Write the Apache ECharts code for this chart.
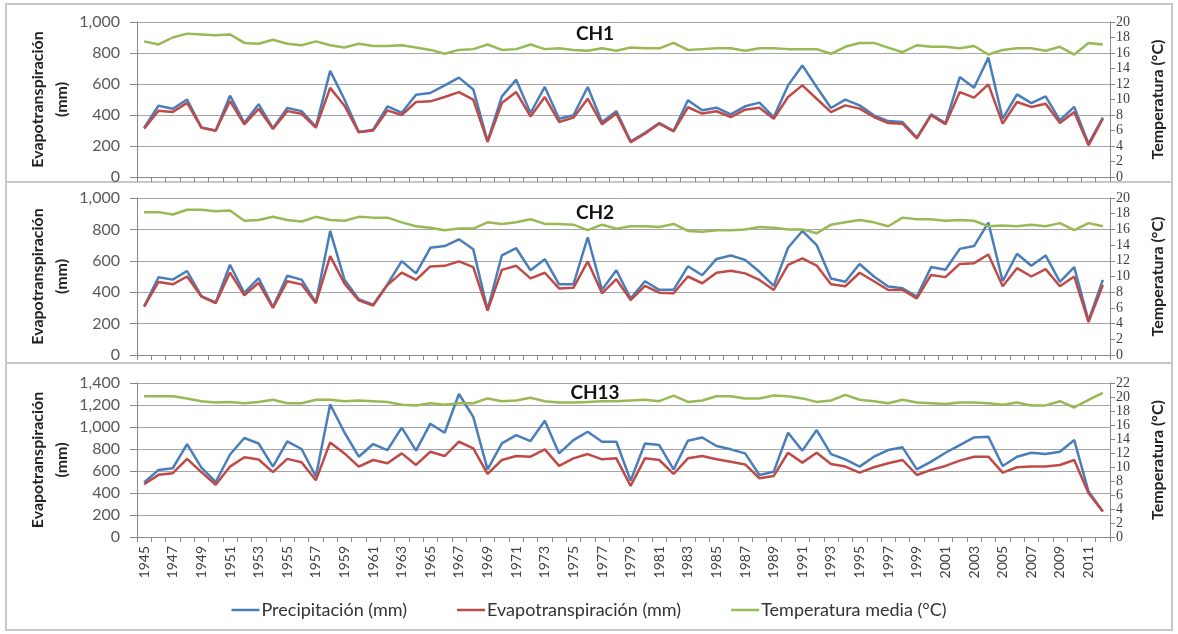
<!DOCTYPE html>
<html>
<head>
<meta charset="utf-8">
<script src="https://cdn.jsdelivr.net/npm/echarts@6/dist/echarts.min.js"></script>
<style>
html,body{margin:0;padding:0;background:#fff;}
#c{width:1178px;height:634px;}
</style>
</head>
<body>
<div id="c"></div>
<script>
const years = ['1945','1946','1947','1948','1949','1950','1951','1952','1953','1954','1955','1956','1957','1958','1959','1960','1961','1962','1963','1964','1965','1966','1967','1968','1969','1970','1971','1972','1973','1974','1975','1976','1977','1978','1979','1980','1981','1982','1983','1984','1985','1986','1987','1988','1989','1990','1991','1992','1993','1994','1995','1996','1997','1998','1999','2000','2001','2002','2003','2004','2005','2006','2007','2008','2009','2010','2011','2012'];

const panelTitles = ['CH1', 'CH2', 'CH13'];
const seriesNames = ['Precipitación (mm)', 'Evapotranspiración (mm)', 'Temperatura media (°C)'];

const ch1Precip = [318,460,440,500,320,300,525,350,470,315, 445,425,325,685,500,290,305,455,415,531, 542,591,641,565,232,520,628,413,581,376, 398,581,355,425,230,285,348,298,495,430, 447,404,456,480,387,591,720,581,445,499, 462,398,361,355,254,404,348,645,576,770, 376,533,477,520,366,452,215,383];
const ch1Evap = [312,428,420,478,318,298,490,340,440,310, 425,408,318,575,460,288,300,430,400,484, 488,516,548,499,226,477,548,391,516,355, 383,505,340,409,224,280,344,295,450,409, 424,387,434,447,376,516,591,505,419,462, 441,387,348,344,249,398,340,548,512,598, 344,484,452,473,348,419,204,376];
const ch1Temp = [17.5,17.1,18.0,18.5,18.4,18.3,18.4,17.3,17.2,17.7, 17.2,17.0,17.5,17.0,16.7,17.2,16.9,16.9,17.0,16.7, 16.4,15.9,16.4,16.5,17.1,16.4,16.5,17.1,16.5,16.6, 16.4,16.3,16.6,16.3,16.7,16.6,16.6,17.3,16.4,16.5, 16.6,16.6,16.3,16.6,16.6,16.5,16.5,16.5,15.9,16.8, 17.3,17.3,16.7,16.1,17.0,16.8,16.8,16.6,16.9,15.8, 16.4,16.6,16.6,16.3,16.8,15.8,17.3,17.1];

const ch2Precip = [310,495,480,535,375,335,575,395,490,305, 505,480,335,790,480,355,320,450,598,520, 683,694,737,673,287,635,680,540,610,450, 450,750,415,540,360,470,415,415,565,508, 612,634,606,530,440,683,790,700,487,466, 580,500,436,425,372,560,543,676,694,843, 470,645,568,634,466,560,220,478];
const ch2Evap = [308,465,450,500,372,330,525,380,460,300, 470,450,330,630,455,348,315,445,525,478, 564,568,596,560,283,542,568,488,524,424, 428,596,393,483,350,440,397,393,500,457, 524,537,520,478,414,574,615,570,450,438, 524,470,414,414,361,510,496,580,585,640, 438,553,500,547,438,500,210,446];
const ch2Temp = [18.2,18.2,17.9,18.5,18.5,18.3,18.4,17.1,17.2,17.6, 17.2,17.0,17.6,17.2,17.1,17.6,17.5,17.5,16.9,16.4, 16.2,15.9,16.1,16.1,16.9,16.7,16.9,17.3,16.7,16.7, 16.6,15.9,16.6,16.1,16.4,16.4,16.3,16.7,15.8,15.7, 15.9,15.9,16.0,16.3,16.2,16.0,16.0,15.5,16.6,16.9, 17.2,16.9,16.4,17.5,17.3,17.3,17.1,17.2,17.1,16.4, 16.5,16.4,16.6,16.4,16.8,15.9,16.8,16.4];

const ch13Precip = [495,610,625,845,630,500,750,900,850,640, 870,800,550,1205,950,730,845,790,995,785, 1030,948,1300,1092,615,851,926,872,1056,760, 881,957,866,866,513,851,836,615,875,905, 827,797,760,564,594,948,785,972,754,706, 640,730,790,815,615,685,766,836,905,911, 646,730,766,754,775,881,413,232];
const ch13Evap = [480,565,580,710,590,475,640,725,705,590, 710,680,515,860,760,640,700,670,760,655, 775,736,866,806,573,700,736,730,797,646, 715,754,706,715,465,715,700,573,715,736, 706,685,660,534,555,766,676,766,664,640, 585,634,670,700,564,610,646,694,730,730, 585,634,640,640,655,700,398,232];
const ch13Temp = [20.1,20.1,20.1,19.8,19.4,19.2,19.3,19.1,19.3,19.6, 19.1,19.1,19.6,19.6,19.4,19.5,19.4,19.3,18.9,18.8, 19.1,18.9,19.1,19.1,19.8,19.4,19.5,19.9,19.4,19.2, 19.2,19.3,19.4,19.4,19.5,19.6,19.4,20.2,19.3,19.5, 20.1,20.1,19.8,19.8,20.2,20.1,19.8,19.3,19.5,20.3, 19.6,19.4,19.1,19.6,19.2,19.1,19.0,19.2,19.2,19.1, 18.9,19.2,18.8,18.8,19.4,18.5,19.6,20.6];

const leftMax = [1000, 1000, 1400];
const rightMax = [20, 20, 22];

const panels = [
  [ch1Precip, ch1Evap, ch1Temp],
  [ch2Precip, ch2Evap, ch2Temp],
  [ch13Precip, ch13Evap, ch13Temp]
];

const colors = ['#4A7EBB', '#BE4B48', '#98B954'];
const FONT = 'Lato, "Open Sans", sans-serif';

const gridDefs = [
  {top: 22, height: 155},
  {top: 198, height: 157},
  {top: 383, height: 154}
];

const grids = gridDefs.map(g => ({left: 137, right: 68, top: g.top, height: g.height}));

const xAxes = gridDefs.map((g, i) => ({
  type: 'category',
  gridIndex: i,
  data: years,
  boundaryGap: true,
  axisLine: {lineStyle: {color: '#888', width: 1}},
  axisTick: {show: true, interval: 0, length: 5, lineStyle: {color: '#888'}},
  axisLabel: {
    show: i === 2,
    interval: 1,
    rotate: 90,
    fontFamily: FONT,
    fontSize: 14,
    color: '#404040',
    margin: 9
  }
}));

const yAxes = [];
gridDefs.forEach((g, i) => {
  yAxes.push({
    type: 'value',
    gridIndex: i,
    position: 'left',
    min: 0, max: leftMax[i], interval: 200,
    name: 'Evapotranspiración\n(mm)',
    nameLocation: 'middle',
    nameRotate: 90,
    nameGap: 63,
    nameMoveOverlap: false,
    nameTextStyle: {fontFamily: FONT, fontSize: 16, fontWeight: 'bold', color: '#222', lineHeight: 24},
    axisLine: {show: true, lineStyle: {color: '#888'}},
    axisTick: {show: true, length: 7, lineStyle: {color: '#888'}},
    axisLabel: {
      fontFamily: FONT, fontSize: 16, color: '#595959', margin: 17,
      showMinLabel: true, showMaxLabel: true,
      formatter: v => v.toLocaleString('en-US')
    },
    splitLine: {show: true, lineStyle: {color: '#a6a6a6', width: 1}}
  });
  yAxes.push({
    type: 'value',
    gridIndex: i,
    position: 'right',
    min: 0, max: rightMax[i], interval: 2,
    name: 'Temperatura (°C)',
    nameLocation: 'middle',
    nameRotate: 90,
    nameGap: 40,
    nameTextStyle: {fontFamily: FONT, fontSize: 16, fontWeight: 'bold', color: '#222'},
    axisLine: {show: true, lineStyle: {color: '#888'}},
    axisTick: {show: true, length: 5, lineStyle: {color: '#888'}},
    axisLabel: {
      fontFamily: '"Liberation Serif", serif', fontSize: 14, color: '#404040', margin: 6,
      showMinLabel: true, showMaxLabel: true, hideOverlap: false
    },
    splitLine: {show: false}
  });
});

const series = [];
panels.forEach((p, i) => {
  p.forEach((arr, k) => {
    series.push({
      name: seriesNames[k],
      type: 'line',
      xAxisIndex: i,
      yAxisIndex: i * 2 + (k === 2 ? 1 : 0),
      data: arr,
      symbol: 'none',
      smooth: false,
      lineStyle: {color: colors[k], width: 2.5},
      itemStyle: {color: colors[k]},
      z: k === 1 ? 3 : 2
    });
  });
});

const titleY = [24, 203, 383];
const graphic = [
  {type: 'rect', shape: {x: 6, y: 4, width: 1166, height: 178}, style: {fill: 'none', stroke: '#c8c8c8', lineWidth: 2}, silent: true, z: -1},
  {type: 'rect', shape: {x: 6, y: 182, width: 1166, height: 181}, style: {fill: 'none', stroke: '#c8c8c8', lineWidth: 2}, silent: true, z: -1},
  {type: 'rect', shape: {x: 6, y: 363, width: 1166, height: 267}, style: {fill: 'none', stroke: '#c8c8c8', lineWidth: 2}, silent: true, z: -1}
];
panelTitles.forEach((t, i) => {
  graphic.push({
    type: 'text', x: 595, y: titleY[i],
    style: {text: t, font: 'bold 19px ' + FONT, fill: '#111', textAlign: 'center', textVerticalAlign: 'top'},
    z: 10
  });
});

const option = {
  animation: false,
  backgroundColor: '#fff',
  grid: grids,
  xAxis: xAxes,
  yAxis: yAxes,
  legend: {
    data: seriesNames,
    top: 596,
    left: 'center',
    icon: 'rect',
    itemWidth: 28,
    itemHeight: 2.5,
    itemGap: 50,
    textStyle: {fontFamily: FONT, fontSize: 18, color: '#333', padding: [0, 0, 0, -3]}
  },
  graphic: graphic,
  series: series
};

const chart = echarts.init(document.getElementById('c'), null, {renderer: 'canvas'});
chart.setOption(option);
</script>
</body>
</html>
